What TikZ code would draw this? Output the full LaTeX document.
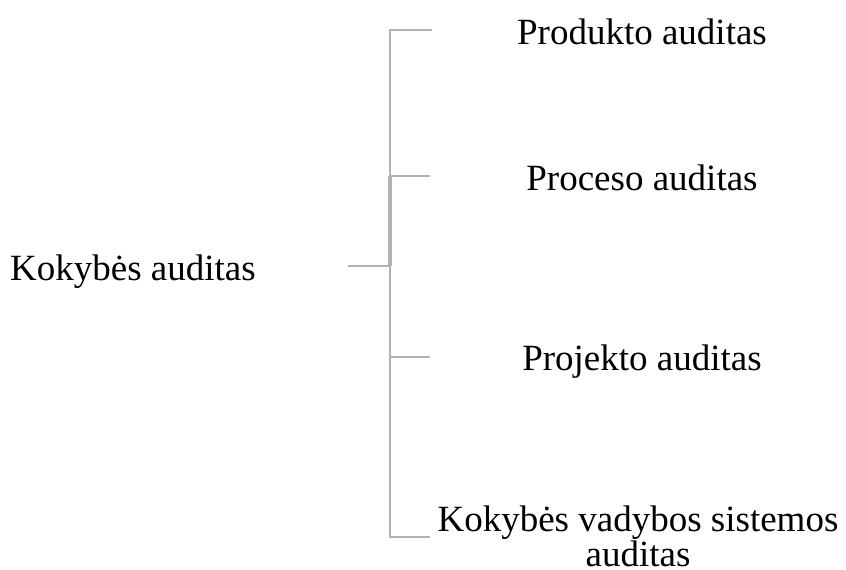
\documentclass[tikz,border=0pt]{standalone}
\usepackage{fontspec}
\setmainfont{Liberation Serif}
\tikzset{
  lbl/.style={inner sep=0pt, anchor=base, font=\fontsize{37}{33}\selectfont, align=center},
  branch/.style={draw=black!30, line width=2.4pt},
  spine/.style={draw=black!30, line width=4.5pt}
}
\begin{document}
\begin{tikzpicture}[x=1pt, y=-1pt]
  \useasboundingbox (0,0) rectangle (846,570);
  % labels
  \node[lbl, anchor=base west] (root) at (10,280) {Kokybės auditas};
  \node[lbl] (a) at (642,44) {Produkto auditas};
  \node[lbl] (b) at (642,190) {Proceso auditas};
  \node[lbl] (c) at (642,370) {Projekto auditas};
  \node[lbl, anchor=base] (d) at (638,566) {Kokybės vadybos sistemos\\auditas};
  % bracket points
  \coordinate (r0) at (348,266);
  \coordinate (j) at (390,266);
  \coordinate (ya) at (390,30);
  \coordinate (yb) at (390,176);
  \coordinate (yc) at (390,357);
  \coordinate (yd) at (390,537);
  \coordinate (ea) at (432,30);
  \coordinate (eb) at (430,176);
  \coordinate (ec) at (430,357);
  \coordinate (ed) at (430,537);
  % connectors
  \draw[branch] (r0) -- (j);
  \draw[spine] (yb) -- (j);
  \draw[branch] (ea) -- (ya) -- (yb) -- (eb);
  \draw[branch] (j) -- (yc) -- (ec);
  \draw[branch] (yc) -- (yd) -- (ed);
\end{tikzpicture}
\end{document}
